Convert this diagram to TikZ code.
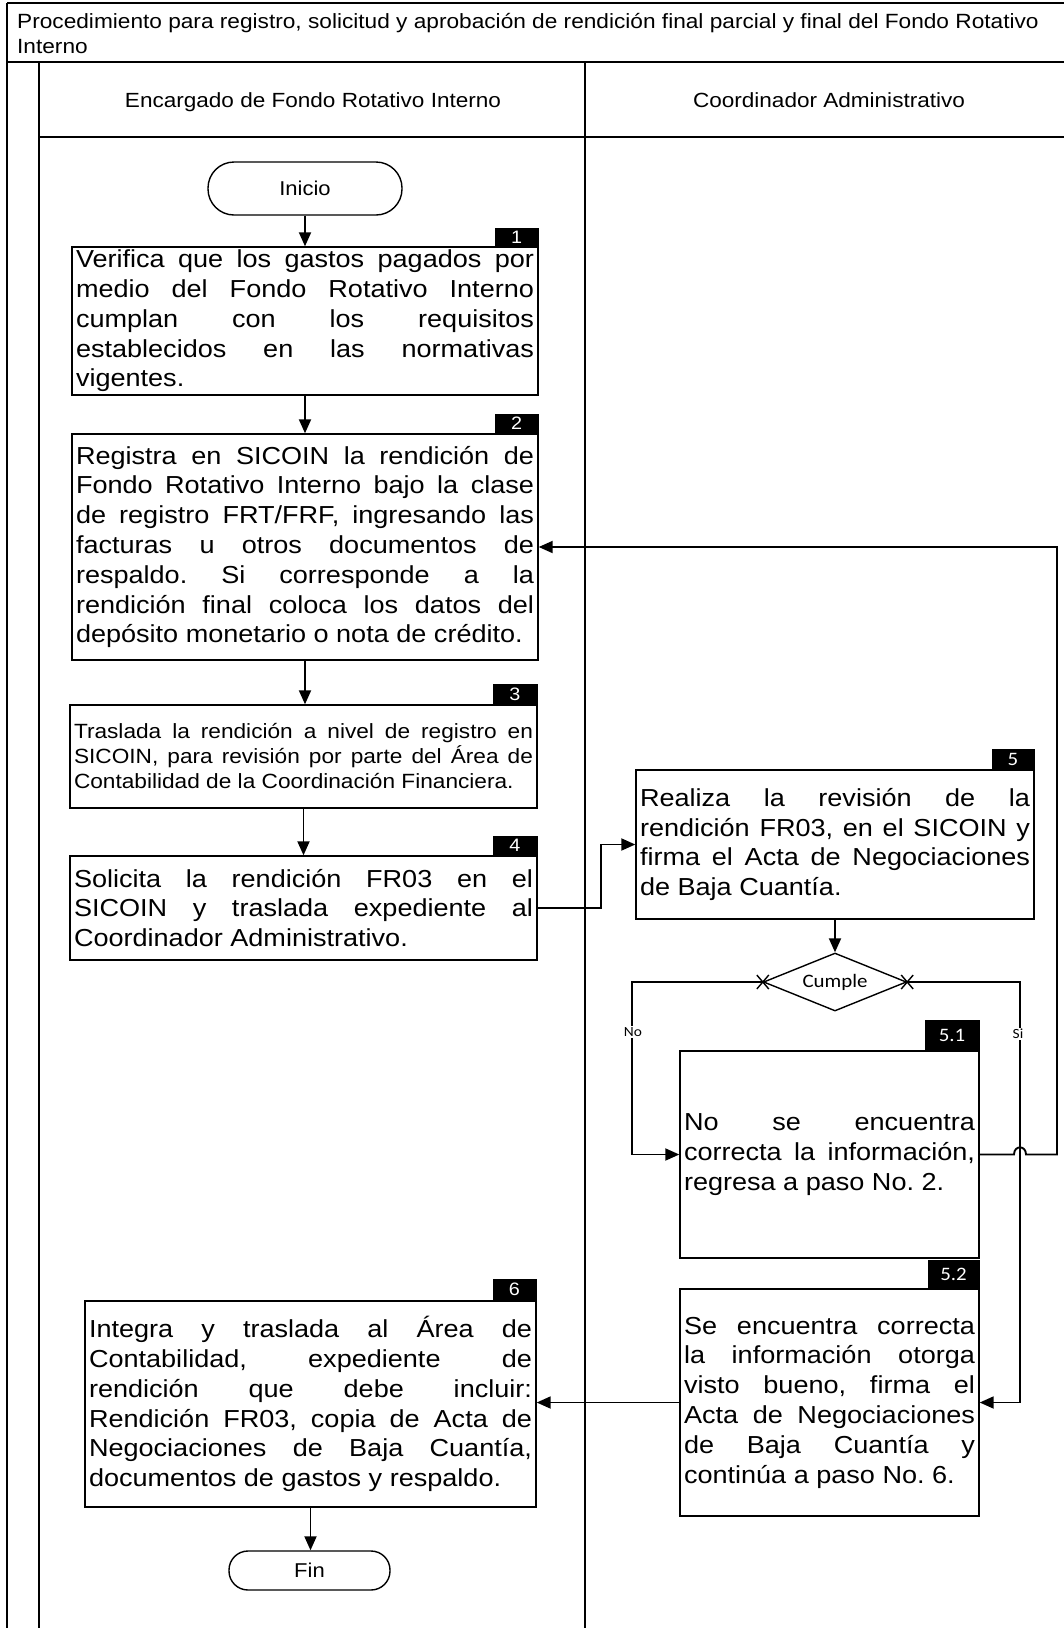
\documentclass[tikz,border=0pt]{standalone}
\usepackage{fontspec}
\setmainfont[FakeStretch=1.1]{Liberation Sans}
\newfontfamily\calib[FakeStretch=1.1]{Carlito}
\usetikzlibrary{arrows.meta,shapes.geometric}
\newcommand{\nohyph}{\hyphenpenalty=10000\relax\exhyphenpenalty=10000\relax\frenchspacing}
\begin{document}
\begin{tikzpicture}[x=1pt,y=-1pt,
  frame/.style={line width=1.5pt},
  stepbox/.style={draw, line width=1.4pt, inner xsep=4pt, inner ysep=0pt, align=justify,
    font=\fontsize{24.6}{29.8}\selectfont\nohyph},
  smallbox/.style={stepbox, font=\fontsize{20.6}{25}\selectfont\nohyph},
  tag/.style={fill=black, text=white, inner sep=0pt, anchor=south east, font=\fontsize{18}{18}\selectfont},
  ctag/.style={tag, font=\calib\fontsize{19}{19}\selectfont},
  term/.style={draw, line width=1.4pt, font=\fontsize{20}{22}\selectfont},
  arr/.style={line width=1.9pt, -{Triangle[length=14pt,width=12pt]}},
  lbl/.style={fill=white, inner sep=1pt, font=\calib\fontsize{14}{14}\selectfont},
  head/.style={anchor=base, font=\fontsize{20.5}{25}\selectfont},
]
\useasboundingbox (0,0) rectangle (1064,1628);
% frame
\draw[frame] (7,3) -- (1064,3);
\draw[frame] (7,3) -- (7,1628);
\draw[frame] (7,62) -- (1064,62);
\draw[frame] (39,62) -- (39,1628);
\draw[frame] (39,137) -- (1064,137);
\draw[frame] (585,62) -- (585,1628);
\node[anchor=north west, inner sep=0pt, align=left, font=\fontsize{20.6}{25}\selectfont] (title) at (17,13)
  {Procedimiento para registro, solicitud y aprobación de rendición final parcial y final del Fondo Rotativo\\Interno};
\node[head] (h1) at (313,107) {Encargado de Fondo Rotativo Interno};
\node[head] (h2) at (829,107) {Coordinador Administrativo};

% nodes
\node[term, minimum width=194pt, minimum height=53pt, rounded corners=26pt] (ini) at (305,188.5) {Inicio};
\node[stepbox, text width=458pt, minimum height=148pt] (b1) at (305,321)
  {Verifica que los gastos pagados por\linebreak medio del Fondo Rotativo Interno\linebreak cumplan con los requisitos\linebreak establecidos en las normativas\linebreak vigentes.};
\node[stepbox, text width=458pt, minimum height=226pt] (b2) at (305,547)
  {Registra en SICOIN la rendición de\linebreak Fondo Rotativo Interno bajo la clase\linebreak de registro FRT/FRF, ingresando las\linebreak facturas u otros documentos de\linebreak respaldo. Si corresponde a la\linebreak rendición final coloca los datos del\linebreak depósito monetario o nota de crédito.};
\node[smallbox, text width=459pt, minimum height=103pt] (b3) at (303.5,756.5)
  {Traslada la rendición a nivel de registro en\linebreak SICOIN, para revisión por parte del Área de\linebreak Contabilidad de la Coordinación Financiera.};
\node[stepbox, text width=459pt, minimum height=104pt] (b4) at (303.5,908)
  {Solicita la rendición FR03 en el\linebreak SICOIN y traslada expediente al\linebreak Coordinador Administrativo.};
\node[stepbox, text width=390pt, minimum height=149pt] (b5) at (835,844.5)
  {Realiza la revisión de la\linebreak rendición FR03, en el SICOIN y\linebreak firma el Acta de Negociaciones\linebreak de Baja Cuantía.};
\node[diamond, draw, line width=1.4pt, aspect=2.47, minimum width=143pt, minimum height=58pt, inner sep=0pt,
  font=\calib\fontsize{19}{19}\selectfont] (dia) at (835,982) {Cumple};
\node[stepbox, text width=291pt, minimum height=207pt] (b51) at (829.5,1154.5)
  {No se encuentra\linebreak correcta la información,\linebreak regresa a paso No. 2.};
\node[stepbox, text width=291pt, minimum height=227pt] (b52) at (829.5,1402.5)
  {Se encuentra correcta\linebreak la información otorga\linebreak visto bueno, firma el\linebreak Acta de Negociaciones\linebreak de Baja Cuantía y\linebreak continúa a paso No. 6.};
\node[stepbox, text width=443pt, minimum height=206pt] (b6) at (310.5,1404)
  {Integra y traslada al Área de\linebreak Contabilidad, expediente de\linebreak rendición que debe incluir:\linebreak Rendición FR03, copia de Acta de\linebreak Negociaciones de Baja Cuantía,\linebreak documentos de gastos y respaldo.};
\node[term, minimum width=161pt, minimum height=39pt, rounded corners=19pt] (fin) at (309.5,1570.5) {Fin};

% tags
\node[tag, minimum width=44pt, minimum height=18pt] (t1) at (b1.north east) {1};
\node[tag, minimum width=44pt, minimum height=19pt] (t2) at (b2.north east) {2};
\node[tag, minimum width=45pt, minimum height=20pt] (t3) at (b3.north east) {3};
\node[tag, minimum width=45pt, minimum height=19pt] (t4) at (b4.north east) {4};
\node[ctag, minimum width=43pt, minimum height=20pt] (t5) at (b5.north east) {5};
\node[ctag, minimum width=55pt, minimum height=30pt] (t51) at (b51.north east) {5.1};
\node[ctag, minimum width=52pt, minimum height=28pt] (t52) at (b52.north east) {5.2};
\node[tag, minimum width=44pt, minimum height=21pt] (t6) at (b6.north east) {6};

% connectors
\draw[arr] (ini.south) -- (b1.north -| ini.south);
\draw[arr] (b1.south) -- (b2.north);
\draw[arr] (b2.south) -- (b3.north -| b2.south);
\draw[arr] (b3.south) -- (b4.north);
\draw[arr] (b4.east) -- ++(63,0) |- (b5.west);
\draw[arr] (b5.south) -- (dia.north);
\coordinate (nocorner) at (632,982);
\coordinate (sicorner) at (1020,982);
\draw[arr] (dia.west) -- (nocorner) |- (b51.west);
\draw[arr] (dia.east) -- (sicorner) |- (b52.east);
\draw[arr] (b51.east) -- (1014,1154.5) .. controls (1014,1145) and (1026,1145) .. (1026,1154.5) -- (1057,1154.5) |- (b2.east);
\draw[arr] (b52.west) -- (b52.west -| b6.east);
\draw[arr] (b6.south) -- (fin.north -| b6.south);
% cross marks at decision vertices
\draw[line width=1.4pt] (dia.west) ++(-6,-7) -- ++(12,14) ++(-12,0) -- ++(12,-14);
\draw[line width=1.4pt] (dia.east) ++(-6,-7) -- ++(12,14) ++(-12,0) -- ++(12,-14);
\node[lbl] (no) at (633,1032) {No};
\node[lbl] (si) at (1018,1034) {Si};
\end{tikzpicture}
\end{document}
